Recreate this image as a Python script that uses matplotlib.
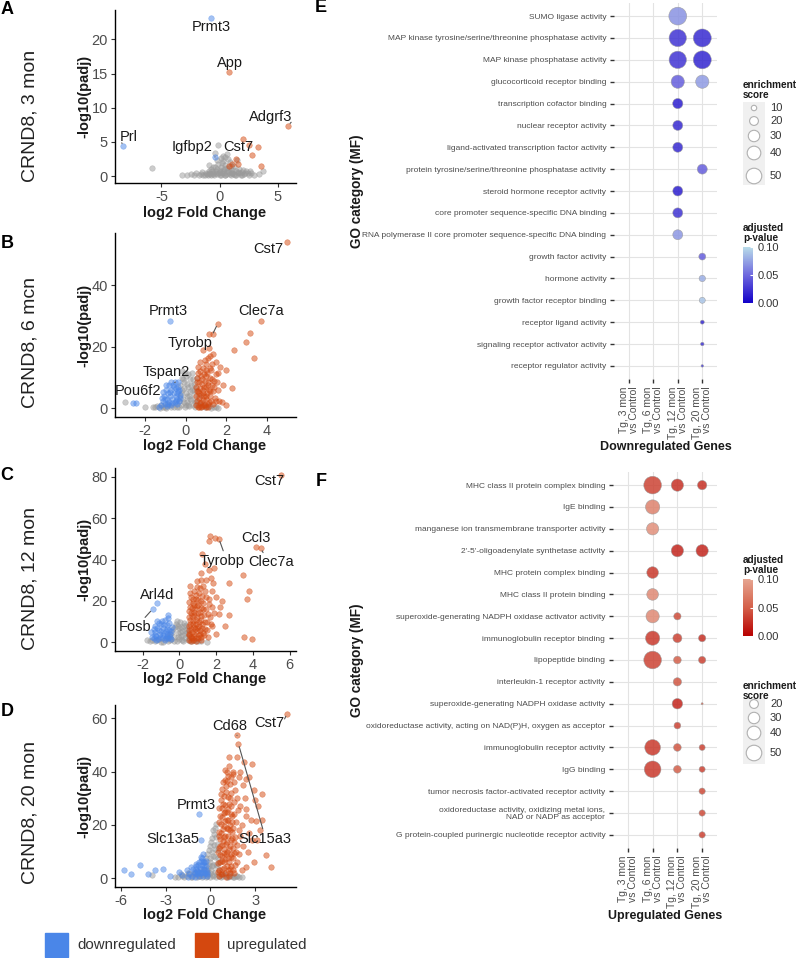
import numpy as np
import matplotlib.pyplot as plt
from matplotlib.colors import LinearSegmentedColormap, Normalize
from matplotlib.cm import ScalarMappable
from matplotlib.patches import Rectangle

plt.rcParams['font.family'] = ['Liberation Sans', 'DejaVu Sans']
plt.rcParams['axes.unicode_minus'] = False

# ---------------- volcano data: (log2 fold change, -log10 padj) ----------------
a_gray = [(-5.8, 1.2), (-3.2, 0.2), (-2.8, 0.1), (-2.5, 0.3), (-2.2, 0.15), (-2.0, 0.4), (-1.8, 0.1),
          (-1.6, 0.3), (-1.5, 0.6), (-1.3, 0.2), (-1.2, 0.45), (-1.0, 0.1), (-0.9, 0.7), (-0.9, 1.6),
          (-0.8, 0.3), (-0.7, 1.0), (-0.6, 0.5), (-0.5, 0.15), (-0.4, 1.3), (-0.4, 3.4), (-0.35, 0.7),
          (-0.2, 0.3), (-0.15, 4.6), (-0.1, 1.8), (0.0, 0.9), (0.0, 0.1), (0.1, 1.4), (0.2, 0.5),
          (0.3, 2.2), (0.3, 3.0), (0.35, 1.0), (0.45, 0.2), (0.5, 1.7), (0.6, 0.7), (0.6, 3.2),
          (0.7, 2.5), (0.75, 1.2), (0.85, 0.3), (0.9, 2.0), (1.0, 0.9), (1.1, 0.4), (1.2, 1.5),
          (1.3, 0.15), (1.4, 0.8), (1.5, 2.3), (1.55, 0.4), (1.7, 1.1), (1.8, 0.2), (1.95, 0.6),
          (2.1, 0.3), (2.3, 0.8), (2.5, 0.2), (2.7, 0.5), (3.0, 0.15), (3.4, 0.3), (3.7, 0.7),
          (-1.4, 0.1), (-1.1, 0.3), (-0.95, 0.5), (-0.75, 0.15), (-0.65, 0.8), (-0.55, 0.35),
          (-0.3, 0.5), (-0.25, 1.0), (-0.05, 0.4), (0.05, 0.6), (0.15, 0.2), (0.25, 0.8), (0.4, 0.5),
          (0.5, 0.1), (0.55, 1.2), (0.65, 0.3), (0.8, 0.6), (0.95, 0.15), (1.05, 0.5), (1.15, 0.9),
          (1.25, 0.3), (1.45, 0.2), (1.6, 0.6), (1.75, 0.4), (1.9, 0.15), (2.0, 0.9), (2.2, 0.5),
          (2.4, 0.4), (2.6, 0.7), (0.15, 2.6), (0.45, 2.8), (-0.25, 2.4), (0.2, 1.9), (-0.6, 1.4),
          (0.95, 1.5)]
a_down = [(-0.7, 23.2), (-8.3, 4.4), (-0.4, 2.8)]
a_up = [(0.8, 15.2), (5.9, 7.4), (2.0, 5.4), (2.5, 4.5), (3.3, 4.3), (2.8, 3.1), (1.4, 2.5),
        (1.05, 1.8), (0.8, 1.5), (1.6, 1.8), (3.6, 1.5)]
a_labels = [('Prmt3', -0.7, 23.2, -0.7, 21.8, None),
            ('App', 0.8, 15.2, 0.86, 16.5, None),
            ('Adgrf3', 5.9, 7.4, 4.4, 8.7, (0.97, 0.1)),
            ('Prl', -8.3, 4.4, -7.8, 5.7, (0.1, 0.1)),
            ('Igfbp2', -0.4, 2.8, -2.4, 4.2, (0.97, 0.05)),
            ('Cst7', 2.0, 5.4, 1.65, 4.2, None)]

b_gray = [(-3.0, 2.0), (-1.6, 0.3), (-1.4, 0.8), (-1.25, 0.2), (-1.1, 0.6), (-0.95, 0.2), (-0.8, 1.0),
          (-0.7, 0.3), (-0.55, 1.5), (-0.45, 0.5), (-0.35, 2.5), (-0.3, 4.0), (-0.25, 1.2), (-0.2, 6.0),
          (-0.2, 10.0), (-0.15, 3.0), (-0.1, 8.5), (-0.05, 0.4), (-0.05, 11.5), (0.0, 5.0), (0.0, 10.5),
          (0.05, 2.0), (0.1, 7.0), (0.15, 0.8), (0.15, 4.0), (0.2, 9.5), (0.25, 2.8), (0.3, 6.0),
          (0.3, 11.5), (0.35, 1.2), (0.4, 4.5), (0.4, 8.0), (0.45, 0.3), (0.5, 2.5), (0.5, 6.5),
          (0.55, 10.0), (0.6, 1.0), (0.65, 4.0), (0.75, 0.3), (0.85, 1.5), (0.95, 0.5), (1.1, 0.9),
          (1.25, 0.2), (1.4, 0.6), (1.6, 0.2), (-1.5, 0.5), (-1.2, 1.0), (-1.0, 0.4), (-0.9, 1.3),
          (-0.6, 0.6), (-0.35, 0.3), (-0.25, 5.0), (-0.3, 7.5), (-0.1, 2.0), (-0.1, 6.5), (0.05, 4.0),
          (0.05, 8.0), (0.1, 1.0), (0.2, 3.0), (0.25, 7.5), (0.35, 9.5), (0.1, 11.0), (0.45, 2.0),
          (0.4, 6.0), (0.2, 5.5), (-0.15, 9.5), (0.7, 1.2), (1.0, 0.3), (1.2, 0.7), (1.5, 0.4),
          (-2.0, 0.6), (-0.2, 12.0), (0.0, 1.0)]
b_down = [(-1.1, 2.5), (-1.05, 4.0), (-1.0, 1.5), (-0.95, 6.0), (-0.9, 3.0), (-0.85, 5.0), (-0.8, 2.0),
          (-0.8, 7.5), (-0.75, 4.0), (-0.7, 1.2), (-0.7, 6.0), (-0.65, 3.0), (-0.63, 7.7), (-0.6, 5.0),
          (-0.55, 2.0), (-0.55, 8.5), (-0.5, 4.0), (-0.5, 6.5), (-0.45, 1.5), (-0.45, 3.0), (-0.4, 5.5),
          (-0.4, 7.0), (-0.35, 2.5), (-0.3, 4.5), (-1.2, 1.0), (-0.9, 0.8), (-1.3, 0.5),
          (-0.78, 28.5), (-2.58, 1.6), (-2.45, 1.9), (-1.1, 5.2), (-1.0, 3.0), (-0.95, 7.5),
          (-0.85, 1.5), (-0.75, 5.2), (-0.65, 1.8), (-0.6, 6.8), (-0.5, 2.5), (-0.45, 5.0),
          (-0.35, 6.0), (-0.3, 3.3), (-0.4, 8.5), (-0.7, 8.5), (-1.15, 3.5)]
b_up = [(0.5, 1.0), (0.5, 4.0), (0.52, 7.0), (0.55, 2.5), (0.55, 10.0), (0.6, 5.5), (0.62, 0.5),
        (0.65, 8.5), (0.65, 3.5), (0.7, 12.0), (0.7, 1.8), (0.72, 6.5), (0.75, 10.5), (0.78, 4.5),
        (0.8, 0.8), (0.8, 8.0), (0.85, 2.8), (0.85, 13.0), (0.88, 6.0), (0.9, 11.0), (0.92, 4.0),
        (0.95, 1.2), (0.95, 9.0), (1.0, 7.0), (1.0, 3.0), (1.02, 14.5), (1.05, 5.0), (1.05, 11.5),
        (1.1, 0.6), (1.1, 8.5), (1.15, 2.2), (1.15, 6.0), (1.2, 10.0), (1.2, 4.0), (1.25, 12.5),
        (1.3, 7.5), (1.35, 1.5), (1.35, 5.5), (1.4, 9.0), (1.45, 3.5), (1.5, 11.0), (1.6, 6.0),
        (1.7, 13.5), (1.8, 2.0), (1.66, 2.4), (1.82, 7.5), (2.31, 6.5), (1.98, 12.4), (1.09, 16.3),
        (1.33, 17.6), (0.88, 18.8), (1.14, 19.6), (1.14, 24.2), (1.33, 24.2), (1.58, 27.4),
        (2.39, 18.8), (3.16, 24.6), (2.96, 21.4), (3.37, 16.3), (3.7, 28.5), (5.0, 53.9),
        (1.5, 15.0), (2.0, 1.0), (0.55, 5.5), (0.58, 8.5), (0.6, 11.5), (0.68, 0.3), (0.68, 5.0),
        (0.75, 2.0), (0.82, 9.5), (0.85, 5.0), (0.9, 1.0), (0.92, 7.0), (0.98, 10.5), (1.0, 12.5),
        (1.02, 4.0), (1.08, 1.5), (1.12, 7.5), (1.18, 13.0), (1.22, 5.5), (1.25, 2.5), (1.28, 9.5),
        (0.62, 13.5), (0.72, 15.0), (1.4, 6.8), (1.5, 2.5), (1.55, 8.5), (1.3, 14.5), (0.95, 15.8),
        (1.2, 17.0), (1.6, 11.5), (0.78, 0.3), (1.0, 0.5)]
b_labels = [('Cst7', 5.0, 53.9, 4.08, 51.7, None),
            ('Clec7a', 3.7, 28.5, 3.72, 31.6, None),
            ('Prmt3', -0.78, 28.5, -0.87, 31.6, None),
            ('Tyrobp', 1.58, 27.4, 0.2, 21.3, (0.97, 0.85)),
            ('Tspan2', -0.63, 7.7, -0.94, 11.7, (0.75, 0.05)),
            ('Pou6f2', -2.58, 1.6, -2.33, 5.6, None)]

c_gray = [(-1.77, 1.2), (-1.5, 1.2), (-1.3, 0.5), (-1.1, 1.5), (-0.9, 0.3), (-0.7, 2.0), (-0.6, 0.8),
          (-0.5, 4.0), (-0.45, 1.5), (-0.35, 6.5), (-0.3, 2.5), (-0.2, 9.0), (-0.15, 0.5), (-0.1, 4.5),
          (0.0, 7.0), (0.0, 1.5), (0.05, 10.0), (0.1, 3.0), (0.15, 5.5), (0.2, 0.5), (0.25, 8.0),
          (0.3, 2.0), (0.35, 4.5), (0.4, 6.5), (0.45, 1.0), (0.5, 3.0), (0.6, 0.4), (0.8, 1.2),
          (1.0, 0.4), (1.2, 0.8), (1.5, 0.3), (-1.6, 0.4), (-1.2, 0.9), (-1.0, 0.3), (-0.8, 1.8),
          (-0.55, 3.0), (-0.4, 5.0), (-0.25, 7.5), (-0.1, 8.0), (-0.05, 2.5), (0.05, 5.0), (0.1, 7.5),
          (0.2, 3.5), (0.3, 6.0), (0.35, 8.5), (0.45, 4.5), (0.55, 2.0), (0.7, 0.5), (0.9, 0.8),
          (-0.3, 0.5), (0.15, 1.0), (-0.5, 1.0), (0.25, 9.5), (-0.15, 10.5)]
c_down = [(-1.4, 2.0), (-1.35, 5.0), (-1.3, 8.0), (-1.25, 3.0), (-1.2, 10.5), (-1.15, 1.5), (-1.1, 6.0),
          (-1.05, 4.0), (-1.0, 9.0), (-0.95, 2.0), (-0.9, 7.0), (-0.85, 4.5), (-0.8, 11.0), (-0.8, 1.0),
          (-0.75, 5.5), (-0.7, 3.0), (-0.65, 8.5), (-0.6, 2.0), (-0.55, 6.0), (-0.5, 4.0), (-0.45, 1.5),
          (-0.42, 7.5), (-1.22, 19.2), (-1.46, 16.0), (-0.6, 13.3), (-1.4, 6.5), (-1.35, 3.5),
          (-1.25, 1.0), (-1.2, 7.0), (-1.1, 9.5), (-1.05, 2.5), (-1.0, 5.5), (-0.95, 10.5), (-0.9, 3.5),
          (-0.85, 8.5), (-0.75, 2.0), (-0.7, 6.5), (-0.65, 4.0), (-0.55, 9.5), (-0.5, 2.5),
          (-0.48, 5.5), (-1.5, 2.5), (-1.55, 5.0), (-0.6, 11.5)]
c_up = [(0.5, 1.0), (0.52, 6.0), (0.55, 12.0), (0.55, 3.5), (0.6, 9.0), (0.6, 17.0), (0.62, 0.5),
        (0.65, 14.0), (0.65, 22.0), (0.7, 5.0), (0.7, 2.0), (0.72, 10.5), (0.75, 19.0), (0.78, 7.5),
        (0.8, 25.0), (0.8, 13.0), (0.82, 3.0), (0.85, 16.0), (0.88, 0.8), (0.9, 9.0), (0.9, 21.0),
        (0.95, 5.5), (0.97, 29.4), (0.98, 12.0), (1.0, 2.0), (1.02, 18.0), (1.05, 8.0), (1.05, 24.0),
        (1.1, 14.5), (1.1, 4.0), (1.15, 33.7), (1.15, 11.0), (1.2, 20.0), (1.2, 1.0), (1.25, 7.0),
        (1.3, 16.0), (1.3, 27.0), (1.35, 3.5), (1.4, 10.0), (1.45, 22.0), (1.5, 6.0), (1.55, 13.5),
        (1.6, 34.7), (1.6, 18.5), (1.7, 31.0), (1.7, 9.0), (1.8, 25.0), (1.9, 14.0), (2.0, 4.0),
        (2.15, 13.8), (2.7, 13.3), (2.7, 28.6), (3.47, 32.3), (3.8, 25.0), (3.7, 20.9), (0.6, 27.0),
        (3.52, 2.8), (3.93, 1.5), (1.24, 42.7), (1.6, 49.0), (1.66, 51.4), (1.93, 50.3), (2.15, 50.0),
        (4.15, 46.2), (4.43, 45.4), (5.53, 80.6), (2.3, 20.0), (2.5, 8.0), (1.4, 38.0), (1.9, 36.0),
        (0.5, 4.0), (0.5, 8.0), (0.52, 15.0), (0.55, 19.5), (0.58, 24.0), (0.6, 11.0), (0.62, 2.5),
        (0.65, 6.5), (0.68, 16.5), (0.7, 12.5), (0.72, 21.0), (0.75, 1.0), (0.75, 9.0), (0.78, 4.0),
        (0.8, 18.0), (0.82, 14.5), (0.85, 6.5), (0.88, 11.0), (0.9, 23.0), (0.92, 2.0), (0.95, 17.5),
        (0.98, 7.0), (1.0, 14.0), (1.02, 20.5), (1.05, 3.5), (1.08, 10.0), (1.1, 26.0), (1.12, 6.0),
        (1.15, 16.5), (1.18, 2.5), (1.2, 12.5), (1.22, 22.5), (1.25, 9.0), (1.28, 4.5), (1.3, 19.0),
        (1.35, 13.0), (1.38, 6.5), (1.4, 25.0), (1.45, 16.0), (1.5, 10.0), (1.55, 2.5), (1.6, 21.0),
        (1.65, 12.0), (1.75, 17.0), (1.45, 30.0), (1.2, 30.0), (0.95, 26.5), (1.8, 8.0), (2.0, 22.0),
        (2.2, 17.0), (1.85, 28.5)]
c_labels = [('Cst7', 5.53, 80.6, 4.9, 78.0, None),
            ('Ccl3', 4.15, 46.2, 4.16, 50.6, None),
            ('Clec7a', 4.43, 45.4, 5.0, 38.6, (0.35, 1.0)),
            ('Tyrobp', 2.15, 50.0, 2.34, 39.5, (0.54, 1.0)),
            ('Arl4d', -1.22, 19.2, -1.22, 22.9, None),
            ('Fosb', -1.46, 16.0, -2.41, 7.3, (0.73, 1.0))]

d_gray = [(-3.9, 1.1), (-2.2, 0.5), (-2.0, 1.5), (-1.8, 0.3), (-1.6, 1.0), (-1.4, 2.0), (-1.3, 0.4),
          (-1.1, 1.5), (-0.9, 0.3), (-0.8, 2.5), (-0.7, 1.0), (-0.55, 0.3), (-0.5, 3.5), (-0.45, 1.5),
          (-0.35, 6.0), (-0.3, 0.5), (-0.25, 3.0), (-0.2, 9.0), (-0.15, 1.5), (-0.1, 5.0), (-0.05, 12.0),
          (0.0, 0.5), (0.0, 7.5), (0.05, 3.0), (0.1, 10.0), (0.1, 15.0), (0.15, 1.2), (0.2, 5.0),
          (0.2, 18.0), (0.25, 12.5), (0.3, 2.5), (0.3, 8.0), (0.38, 20.5), (0.4, 0.5), (0.4, 15.5),
          (0.45, 4.5), (0.5, 10.5), (0.55, 1.5), (0.6, 6.0), (0.7, 0.5), (0.9, 1.5), (1.1, 0.4),
          (1.3, 1.2), (1.5, 0.3), (1.7, 0.8), (1.9, 0.3), (2.1, 0.6), (-2.4, 0.3), (-1.9, 0.7),
          (-1.5, 1.8), (-1.2, 0.3), (-1.0, 2.2), (-0.85, 0.8), (-0.6, 1.2), (-0.4, 3.0), (-0.3, 7.5),
          (-0.2, 2.0), (-0.15, 4.0), (-0.1, 10.5), (-0.05, 6.0), (0.0, 2.0), (0.05, 13.5), (0.1, 4.5),
          (0.15, 8.5), (0.2, 1.0), (0.25, 16.5), (0.3, 11.0), (0.35, 5.5), (0.45, 13.0), (0.5, 7.5),
          (0.55, 3.0), (0.6, 1.0), (0.8, 0.8), (1.0, 1.2), (1.2, 0.5), (1.4, 1.0), (1.6, 0.4),
          (1.8, 1.0), (0.3, 19.0), (-0.25, 0.8)]
d_down = [(-5.76, 3.0), (-5.32, 1.7), (-4.7, 5.1), (-4.15, 1.7), (-3.7, 3.0), (-3.2, 3.6), (-2.67, 0.9),
          (-2.1, 2.4), (-1.9, 1.2), (-1.6, 3.2), (-1.28, 4.2), (-0.95, 5.5), (-0.66, 8.0), (-0.5, 8.9),
          (-0.77, 24.0), (-0.62, 14.2), (-1.2, 1.0), (-1.1, 2.5), (-1.0, 0.5), (-0.95, 3.5), (-0.9, 1.5),
          (-0.85, 5.0), (-0.8, 2.5), (-0.75, 0.8), (-0.7, 4.0), (-0.65, 6.5), (-0.6, 2.0), (-0.55, 5.0),
          (-0.5, 0.8), (-0.45, 3.5), (-0.4, 6.0), (-0.35, 1.8), (-0.3, 4.5), (-0.25, 2.5), (-0.2, 0.8),
          (-1.4, 1.5), (-1.5, 0.5), (-1.15, 3.5), (-1.05, 1.8), (-0.98, 4.5), (-0.88, 2.8),
          (-0.78, 6.0), (-0.72, 1.8), (-0.62, 3.5), (-0.58, 7.5), (-0.48, 2.5), (-0.42, 4.8),
          (-0.32, 3.0), (-0.28, 6.5), (-0.22, 1.5), (-0.52, 6.0)]
d_up = [(0.55, 0.8), (0.8, 1.5), (1.05, 0.6), (1.3, 1.8), (0.6, 3.2), (0.9, 4.0), (1.15, 3.0), (1.4, 4.5),
        (0.5, 5.8), (0.75, 6.5), (1.0, 7.2), (1.25, 6.0), (1.5, 7.5), (0.62, 8.8), (0.88, 9.5),
        (1.12, 10.0), (1.35, 9.0), (0.55, 11.5), (0.8, 12.5), (1.05, 13.0), (1.3, 12.0), (1.55, 13.5),
        (0.65, 14.8), (0.9, 15.5), (1.18, 16.0), (1.42, 15.0), (0.58, 17.5), (0.82, 18.5), (1.08, 19.0),
        (1.32, 18.0), (0.7, 20.5), (0.95, 21.5), (1.2, 22.0), (1.45, 21.0), (0.62, 23.5), (0.88, 24.5),
        (1.1, 25.0), (1.35, 24.0), (0.75, 26.5), (1.0, 27.5), (1.25, 28.0), (0.68, 29.5), (0.92, 31.0),
        (1.15, 30.5), (1.4, 32.0), (0.8, 33.5), (1.05, 34.5), (1.3, 35.5), (0.95, 37.0), (1.2, 38.5),
        (1.48, 40.0), (1.1, 40.0), (1.26, 45.5), (1.5, 39.0), (1.8, 45.5), (2.25, 43.6), (2.8, 42.7),
        (2.4, 37.3), (3.46, 31.5), (2.9, 33.0), (3.0, 29.2), (2.4, 25.8), (2.4, 23.3), (3.03, 21.5),
        (3.46, 21.7), (2.8, 14.2), (3.1, 14.2), (3.69, 8.6), (4.02, 4.2), (2.4, 4.2), (2.1, 3.0),
        (1.77, 53.6), (1.87, 50.4), (5.12, 61.7), (1.7, 10.0), (1.9, 18.0), (2.0, 27.0), (1.65, 33.0),
        (1.8, 6.0), (2.2, 12.0), (1.6, 2.0), (2.6, 17.0), (2.2, 35.0), (1.9, 38.0), (1.6, 24.0),
        (1.75, 30.0), (0.5, 2.5), (0.52, 10.0), (0.55, 16.0), (0.58, 21.0), (0.6, 26.5), (0.62, 6.0),
        (0.65, 12.0), (0.68, 1.5), (0.7, 17.0), (0.72, 31.5), (0.75, 8.5), (0.78, 23.0), (0.8, 3.5),
        (0.82, 14.0), (0.85, 28.0), (0.88, 19.5), (0.9, 6.0), (0.92, 11.0), (0.95, 25.0), (0.98, 2.0),
        (1.0, 16.0), (1.02, 32.5), (1.05, 9.0), (1.08, 22.0), (1.1, 4.5), (1.12, 13.5), (1.15, 26.0),
        (1.18, 18.5), (1.2, 7.5), (1.22, 1.0), (1.25, 11.0), (1.28, 30.0), (1.3, 20.0), (1.32, 3.5),
        (1.35, 14.5), (1.38, 27.0), (1.4, 8.0), (1.42, 17.5), (1.45, 23.5), (1.48, 11.5), (1.5, 3.0),
        (1.52, 19.0), (1.55, 28.5), (1.58, 9.5), (1.62, 15.5), (1.65, 5.0), (1.7, 21.0), (1.75, 12.5),
        (1.85, 25.5), (1.9, 9.0), (2.0, 16.0), (2.1, 20.0), (2.3, 30.0), (2.5, 10.0), (2.7, 22.0),
        (0.85, 36.0), (1.1, 36.5), (1.35, 38.0), (1.6, 36.0), (0.95, 40.5), (1.25, 42.0), (2.0, 40.0),
        (2.6, 38.0), (3.2, 27.0), (3.3, 18.0), (2.9, 6.0)]
d_labels = [('Cst7', 5.12, 61.7, 3.95, 58.2, (1.0, 0.8)),
            ('Cd68', 1.77, 53.6, 1.26, 57.3, (0.85, 0.0)),
            ('Slc15a3', 1.87, 50.4, 3.62, 14.9, (0.48, 1.0)),
            ('Prmt3', -0.77, 24.0, -0.95, 27.3, None),
            ('Slc13a5', -0.62, 14.2, -2.54, 14.9, None)]

# ---------------- GO enrichment data ----------------
comparisons = ['Tg, 3 mon\nvs Control', 'Tg, 6 mon\nvs Control',
               'Tg, 12 mon\nvs Control', 'Tg, 20 mon\nvs Control']

e_terms = ['SUMO ligase activity',
           'MAP kinase tyrosine/serine/threonine phosphatase activity',
           'MAP kinase phosphatase activity',
           'glucocorticoid receptor binding',
           'transcription cofactor binding',
           'nuclear receptor activity',
           'ligand-activated transcription factor activity',
           'protein tyrosine/serine/threonine phosphatase activity',
           'steroid hormone receptor activity',
           'core promoter sequence-specific DNA binding',
           'RNA polymerase II core promoter sequence-specific DNA binding',
           'growth factor activity',
           'hormone activity',
           'growth factor receptor binding',
           'receptor ligand activity',
           'signaling receptor activator activity',
           'receptor regulator activity']
# (term row, comparison column, enrichment score, adjusted p-value)
e_dots = [(0, 2, 63, 0.068), (1, 2, 60, 0.025), (1, 3, 64, 0.02), (2, 2, 60, 0.025), (2, 3, 64, 0.018),
          (3, 2, 38, 0.045), (3, 3, 38, 0.072), (4, 2, 25, 0.015), (5, 2, 24, 0.02), (6, 2, 24, 0.02),
          (7, 3, 24, 0.045), (8, 2, 24, 0.015), (9, 2, 24, 0.025), (10, 2, 24, 0.07),
          (11, 3, 14, 0.045), (12, 3, 12.5, 0.08), (13, 3, 11.5, 0.09), (14, 3, 6.8, 0.02),
          (15, 3, 5.9, 0.025), (16, 3, 4.2, 0.03)]

f_terms = ['MHC class II protein complex binding',
           'IgE binding',
           'manganese ion transmembrane transporter activity',
           "2'-5'-oligoadenylate synthetase activity",
           'MHC protein complex binding',
           'MHC class II protein binding',
           'superoxide-generating NADPH oxidase activator activity',
           'immunoglobulin receptor binding',
           'lipopeptide binding',
           'interleukin-1 receptor activity',
           'superoxide-generating NADPH oxidase activity',
           'oxidoreductase activity, acting on NAD(P)H, oxygen as acceptor',
           'immunoglobulin receptor activity',
           'IgG binding',
           'tumor necrosis factor-activated receptor activity',
           'oxidoreductase activity, oxidizing metal ions,\nNAD or NADP as acceptor',
           'G protein-coupled purinergic nucleotide receptor activity']
f_dots = [(0, 1, 62, 0.035), (0, 2, 33.5, 0.025), (0, 3, 21.7, 0.025),
          (1, 1, 43, 0.075),
          (2, 1, 33.5, 0.085),
          (3, 2, 33.5, 0.02), (3, 3, 33.5, 0.02),
          (4, 1, 31, 0.03),
          (5, 1, 31, 0.08),
          (6, 1, 38, 0.08), (6, 2, 15, 0.04),
          (7, 1, 43, 0.03), (7, 2, 20.6, 0.035), (7, 3, 15, 0.025),
          (8, 1, 62, 0.035), (8, 2, 16.3, 0.05), (8, 3, 15, 0.035),
          (9, 2, 18.2, 0.045),
          (10, 2, 26, 0.02), (10, 3, 3.4, 0.05),
          (11, 2, 13.4, 0.035),
          (12, 1, 50.6, 0.03), (12, 2, 16.3, 0.045), (12, 3, 11.5, 0.035),
          (13, 1, 56, 0.03), (13, 2, 16.3, 0.05), (13, 3, 11.5, 0.035),
          (14, 3, 12.2, 0.04),
          (15, 3, 12.2, 0.04),
          (16, 3, 12.2, 0.035)]

e_size_keys = [10, 20, 30, 40, 50]
f_size_keys = [20, 30, 40, 50]
padj_ticks = [0.0, 0.05, 0.10]

# ---------------- figure ----------------
W, H = 797, 958
fig = plt.figure(figsize=(W / 100, H / 100), dpi=100)

GRAY, BLUE, ORANGE = '#9a9a9a', '#4a86e8', '#d4480f'
TXT = '#1a1a1a'


def box(l, t, r, b):
    # axes placed by pixel edges
    return fig.add_axes([l / W, 1 - b / H, (r - l) / W, (b - t) / H])


def ftext(x, y, s, **kw):
    fig.text(x / W, 1 - y / H, s, **kw)


def pts(lst):
    arr = np.array(lst, dtype=float)
    return arr[:, 0], arr[:, 1]


volcanos = [
    ('A', 'CRND8, 3 mon', a_gray, a_down, a_up, a_labels, (-9.0, 6.57), (-1.0, 24.3),
     [-5, 0, 5], [0, 5, 10, 15, 20], 10, 183, 213, 116, 10),
    ('B', 'CRND8, 6 mcn', b_gray, b_down, b_up, b_labels, (-3.49, 5.45), (-2.8, 56.9),
     [-2, 0, 2, 4], [0, 20, 40], 233, 417, 446, 343, 243),
    ('C', 'CRND8, 12 mon', c_gray, c_down, c_up, c_labels, (-3.5, 6.34), (-4.2, 84.2),
     [-2, 0, 2, 4, 6], [0, 20, 40, 60, 80], 468, 651, 679, 578, 476),
    ('D', 'CRND8, 20 mon', d_gray, d_down, d_up, d_labels, (-6.38, 5.72), (-3.3, 65.0),
     [-6, -3, 0, 3], [0, 20, 40, 60], 705, 887, 915, 813, 711),
]

for (letter, group, gray, down, up, labels, xl, yl, xt, yt,
     top, bottom, xlab_y, group_y, letter_y) in volcanos:
    ax = box(115, top, 296, bottom)
    for lst, col in ((gray, GRAY), (down, BLUE), (up, ORANGE)):
        x, y = pts(lst)
        ax.scatter(x, y, s=16, color=col, alpha=0.5, edgecolors=col, linewidths=0.4, zorder=2)
    for name, px, py, lx, ly, rel in labels:
        if rel is None:
            ax.text(lx, ly, name, ha='center', va='center', fontsize=10.5, color=TXT, zorder=4)
        else:
            ax.annotate(name, xy=(px, py), xytext=(lx, ly), ha='center', va='center',
                        fontsize=10.5, color=TXT, zorder=4,
                        arrowprops=dict(arrowstyle='-', color='#555555', lw=0.8,
                                        relpos=rel, shrinkA=0, shrinkB=2))
    ax.set_xlim(*xl)
    ax.set_ylim(*yl)
    ax.set_xticks(xt)
    ax.set_yticks(yt)
    ax.spines[['top', 'right']].set_visible(False)
    ax.spines[['left', 'bottom']].set_linewidth(1.0)
    ax.tick_params(length=3, width=0.8, color='#333333', labelsize=10.5,
                   labelcolor='#4d4d4d', pad=2)
    ftext(205, xlab_y, 'log2 Fold Change', ha='center', va='center',
          fontsize=10.5, fontweight='bold', color=TXT)
    ftext(84, (top + bottom) / 2, '-log10(padj)', ha='center', va='center', rotation=90,
          fontsize=10.5, fontweight='bold', color=TXT)
    ftext(30, group_y, group, ha='center', va='center', rotation=90, fontsize=14, color='#222222')
    ftext(7, letter_y, letter, ha='center', va='center', fontsize=13, fontweight='bold', color='black')

# bottom legend for volcano colours
for x0, col, lab in ((45, BLUE, 'downregulated'), (195, ORANGE, 'upregulated')):
    fig.patches.append(Rectangle((x0 / W, 1 - 957 / H), 23 / W, 24 / H,
                                 transform=fig.transFigure, color=col, zorder=1))
    ftext(x0 + 32, 945, lab, ha='left', va='center', fontsize=10.8, color='#333333')


# ---------------- GO dot plots ----------------
def dot_area(score):
    d = np.maximum(2.6 * np.sqrt(np.asarray(score, dtype=float)) - 2.8, 1.5)
    return (d * 0.72) ** 2


e_cmap = LinearSegmentedColormap.from_list('e', ['#1200c8', '#6e68de', '#b9dce9'])
f_cmap = LinearSegmentedColormap.from_list('f', ['#b80000', '#d4604a', '#e6a590'])
norm = Normalize(0, 0.10)

go_panels = [
    ('E', e_terms, e_dots, e_cmap, 'Downregulated Genes', 614, 3, 379, 8),
    ('F', f_terms, f_dots, f_cmap, 'Upregulated Genes', 613, 472, 848, 481),
]

for letter, terms, dots, cmap, xlab, left, top, bottom, letter_y in go_panels:
    ax = box(left, top, 717, bottom)
    d = np.array(dots, dtype=float)
    ax.scatter(d[:, 1], d[:, 0], s=dot_area(d[:, 2]), c=d[:, 3], cmap=cmap, norm=norm,
               alpha=0.85, edgecolors='#9a9a9a', linewidths=0.4, zorder=3)
    ax.set_xlim(-0.6, 3.6)
    ax.set_ylim(len(terms) - 0.4, -0.6)
    ax.set_xticks(range(len(comparisons)))
    ax.set_xticklabels(comparisons, rotation=90, fontsize=7.5, color='#4d4d4d',
                       ha='center', va='top', multialignment='right', linespacing=1.0)
    ax.set_yticks(range(len(terms)))
    ax.set_yticklabels(terms, fontsize=6.0, color='#4d4d4d', linespacing=1.0)
    ax.tick_params(length=3, width=1.0, color='#333333', pad=2.5)
    for s in ax.spines.values():
        s.set_visible(False)
    ax.grid(True, color='#e3e3e3', lw=0.8)
    ax.set_axisbelow(True)
    ftext((left + 717) / 2, bottom + 68, xlab, ha='center', va='center',
          fontsize=9, fontweight='bold', color=TXT)
    ftext(357, (top + bottom) / 2, 'GO category (MF)', ha='center', va='center', rotation=90,
          fontsize=9.8, fontweight='bold', color=TXT)
    ftext(321, letter_y, letter, ha='center', va='center', fontsize=13, fontweight='bold', color='black')


def size_legend(keys, title_top, box_top, box_bottom, key_y):
    ftext(743, title_top, 'enrichment\nscore', ha='left', va='top', fontsize=7.2,
          fontweight='bold', color=TXT, linespacing=0.95)
    lax = box(743, box_top, 765, box_bottom)
    lax.set_xlim(743, 765)
    lax.set_ylim(box_bottom, box_top)
    lax.axis('off')
    lax.add_patch(Rectangle((743, box_top), 22, box_bottom - box_top, color='#f0f0f0', zorder=0))
    lax.scatter([754] * len(keys), key_y, s=dot_area(keys), facecolors='white',
                edgecolors='#b0b0b0', linewidths=0.8, zorder=2, clip_on=False)
    for k, yk in zip(keys, key_y):
        ftext(770, yk, str(k), ha='left', va='center', fontsize=8, color='#333333')


def padj_bar(cmap, title_top, bar_top, bar_bottom):
    ftext(743, title_top, 'adjusted\np-value', ha='left', va='top', fontsize=7.2,
          fontweight='bold', color=TXT, linespacing=0.95)
    cax = box(743, bar_top, 753, bar_bottom)
    cb = fig.colorbar(ScalarMappable(norm=norm, cmap=cmap), cax=cax, ticks=padj_ticks)
    cb.outline.set_visible(False)
    cb.ax.set_yticklabels(['%.2f' % t for t in padj_ticks])
    cb.ax.tick_params(length=2, width=0.8, color='white', direction='in',
                      labelsize=8, labelcolor='#333333', pad=3)


size_legend(e_size_keys, 80, 102, 185, [108, 121, 136, 153, 176])
padj_bar(e_cmap, 223, 247, 303)
padj_bar(f_cmap, 555, 579, 636)
size_legend(f_size_keys, 681, 698, 764, [704, 718, 733, 753])

fig.savefig('out.png', dpi=100)
